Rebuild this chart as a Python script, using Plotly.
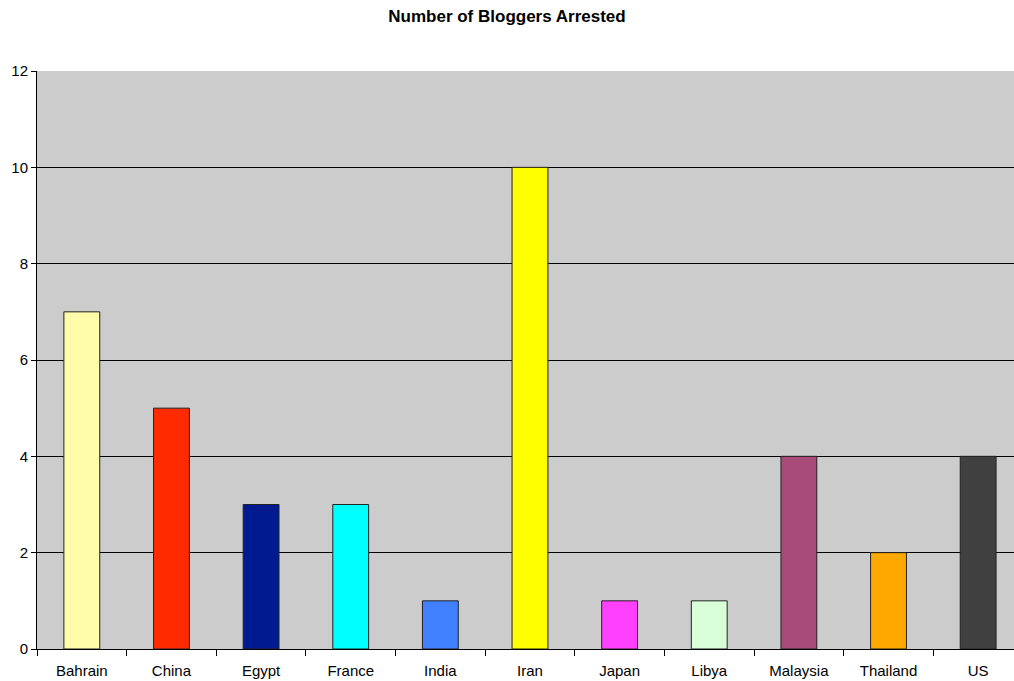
import plotly.graph_objects as go

countries = ["Bahrain", "China", "Egypt", "France", "India", "Iran", "Japan", "Libya", "Malaysia", "Thailand", "US"]
arrested = [7, 5, 3, 3, 1, 10, 1, 1, 4, 2, 4]
colors = ["#FFFCAA", "#FF2A00", "#001A8F", "#00FFFF", "#4080FF", "#FFFF00",
          "#FF40FF", "#D8FFD8", "#A84B78", "#FFA800", "#404040"]

fig = go.Figure(go.Bar(
    x=countries, y=arrested,
    marker=dict(color=colors, line=dict(color="#222222", width=1)),
))

fig.update_layout(
    width=1014, height=681,
    margin=dict(l=37, r=0, t=71, b=32),
    paper_bgcolor="white",
    plot_bgcolor="#CCCCCC",
    bargap=0.6,
    showlegend=False,
    font=dict(family="Liberation Sans, Arial, sans-serif", size=15, color="black"),
    title=dict(text="<b>Number of Bloggers Arrested</b>", x=0.5, xanchor="center",
               y=1 - 16 / 681, yanchor="middle", font=dict(size=17)),
)
fig.update_xaxes(
    range=[-0.5, 10.4],
    showline=True, linecolor="black", linewidth=1,
    ticks="outside", tickson="boundaries", ticklen=6, tickcolor="black",
    ticklabelstandoff=8,
    showgrid=False,
)
fig.update_yaxes(
    range=[0, 12], dtick=2,
    showline=True, linecolor="black", linewidth=1,
    ticks="outside", ticklen=5, tickcolor="black",
    showgrid=True, gridcolor="black", gridwidth=1,
    zeroline=False,
)

fig.write_html("out.html")
